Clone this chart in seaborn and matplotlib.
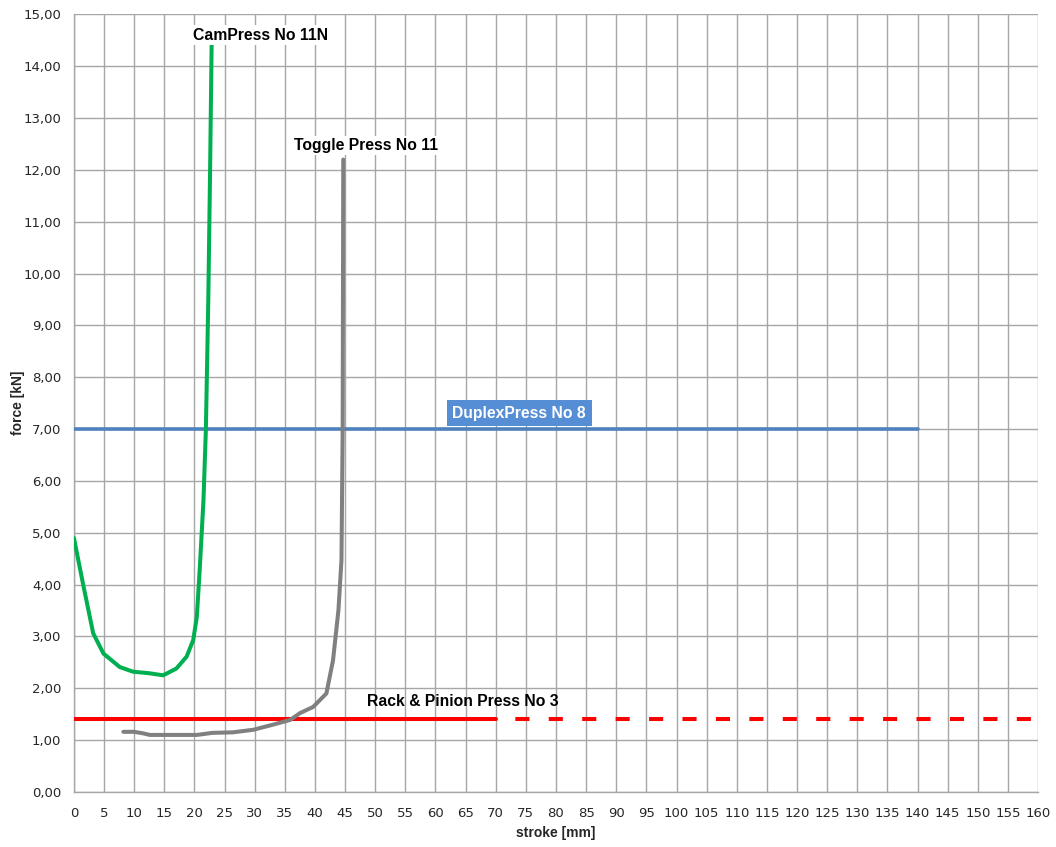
import pandas as pd
import seaborn as sns
import matplotlib
matplotlib.use("Agg")
import matplotlib.pyplot as plt

# CamPress No 11N (green)
cam_x = [0, 1.5, 3.2, 4.9, 7.6, 9.8, 12.5, 14.8, 17.0, 18.7, 19.8, 20.4, 20.9, 21.5, 21.9, 22.3, 22.6, 22.85]
cam_y = [4.9, 4.02, 3.06, 2.67, 2.41, 2.32, 2.29, 2.25, 2.38, 2.61, 2.93, 3.38, 4.34, 5.63, 7.0, 9.5, 12.0, 14.4]

# Toggle Press No 11 (grey)
tog_x = [8.2, 10.0, 11.5, 12.6, 16.0, 20.4, 23.0, 26.4, 29.8, 33.1, 35.9, 37.5, 39.7, 41.9, 43.0, 43.9, 44.4, 44.6, 44.7]
tog_y = [1.16, 1.16, 1.13, 1.10, 1.10, 1.10, 1.14, 1.15, 1.20, 1.30, 1.39, 1.52, 1.64, 1.90, 2.54, 3.51, 4.47, 7.0, 12.2]

# DuplexPress No 8 (blue)
dup_x = [0, 140]
dup_y = [7.0, 7.0]

# Rack & Pinion Press No 3 (red), measured part and extrapolated part
rack_x = [0, 70]
rack_y = [1.4, 1.4]
rack_ext_x = [70, 160]
rack_ext_y = [1.4, 1.4]

x_ticks = list(range(0, 161, 5))
y_ticks = list(range(0, 16))

sns.set_style("white")
plt.rcParams['font.family'] = ['DejaVu Sans']

fig = plt.figure(figsize=(10.56, 8.47), dpi=100)
ax = fig.add_axes([0.070, 0.065, 0.913, 0.918])

sns.lineplot(x=dup_x, y=dup_y, ax=ax, color="#4f81bd", linewidth=2.6, zorder=3)
sns.lineplot(x=rack_x, y=rack_y, ax=ax, color="#ff0000", linewidth=2.9, zorder=3)
sns.lineplot(x=rack_ext_x, y=rack_ext_y, ax=ax, color="#ff0000", linewidth=2.9, zorder=3)
ax.lines[-1].set_linestyle((3.5, (3.5, 4.8)))
sns.lineplot(x=tog_x, y=tog_y, ax=ax, color="#808080", linewidth=2.9, sort=False, zorder=4)
sns.lineplot(x=cam_x, y=cam_y, ax=ax, color="#00b050", linewidth=2.9, sort=False, zorder=4)

ax.set_xlim(0, 160)
ax.set_ylim(0, 15)
ax.set_xticks(x_ticks)
ax.set_yticks(y_ticks)
ax.set_xticklabels([str(v) for v in x_ticks])
ax.set_yticklabels([f"{v:.2f}".replace(".", ",") for v in y_ticks])
ax.grid(True, color="#a6a6a6", linewidth=1.0)
ax.set_axisbelow(True)
for s in ["top", "right"]:
    ax.spines[s].set_visible(False)
for s in ["left", "bottom"]:
    ax.spines[s].set_color("#a6a6a6")
    ax.spines[s].set_linewidth(1.0)
ax.tick_params(axis="both", length=5, width=1.0, color="#a6a6a6", labelsize=9.5,
               labelcolor="#262626", direction="out")
ax.tick_params(axis="x", pad=6)
ax.tick_params(axis="y", pad=4)

ax.set_xlabel("stroke [mm]", fontsize=10, fontweight="bold", family="Liberation Sans", labelpad=4)
ax.set_ylabel("force [kN]", fontsize=10, fontweight="bold", family="Liberation Sans", labelpad=-1)

lab = dict(fontsize=11.3, fontweight="bold", family="Liberation Sans", ha="center", va="center", zorder=6)
ax.text(30.9, 14.6, "CamPress No 11N", color="black",
        bbox=dict(boxstyle="square,pad=0.15", fc="white", ec="none"), **lab)
ax.text(48.5, 12.47, "Toggle Press No 11", color="black",
        bbox=dict(boxstyle="square,pad=0.15", fc="white", ec="none"), **lab)
ax.text(73.9, 7.31, "DuplexPress No 8", color="white",
        bbox=dict(boxstyle="square,pad=0.35", fc="#558ed5", ec="none"), **lab)
ax.text(64.6, 1.74, "Rack & Pinion Press No 3", color="black", **lab)

fig.savefig("out.png", dpi=100)
